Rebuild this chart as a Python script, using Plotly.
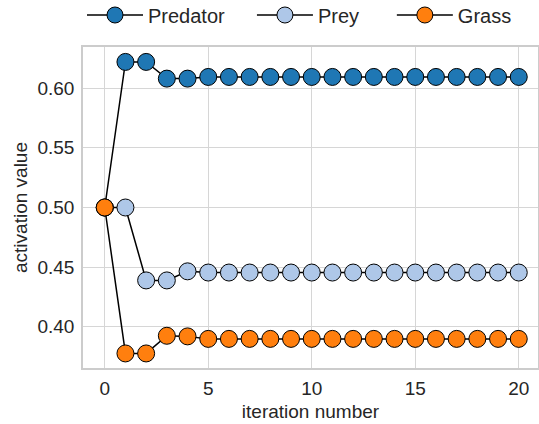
import plotly.graph_objects as go

iterations = list(range(21))
predator = [0.5, 0.622, 0.622, 0.608, 0.608] + [0.6094] * 16
prey = [0.5, 0.5, 0.4389, 0.4389, 0.4465] + [0.4455] * 16
grass = [0.5, 0.3777, 0.3777, 0.3925, 0.392] + [0.3899] * 16

names = ["Predator", "Prey", "Grass"]
colors = ["#1f77b4", "#aec7e8", "#ff7f0e"]
pad = ["\u00a0" * 4, "\u00a0" * 5, ""]

fig = go.Figure()
for name, vals, col, p in zip(names, [predator, prey, grass], colors, pad):
    fig.add_trace(go.Scatter(
        x=iterations, y=vals, name=name + p, mode="lines+markers",
        line=dict(color="black", width=1.5),
        marker=dict(size=17, color=col, line=dict(color="black", width=1)),
    ))

font = "Liberation Sans, Arial, sans-serif"
fig.update_layout(
    width=539, height=424,
    margin=dict(l=83, r=1, t=47, b=56, autoexpand=False),
    plot_bgcolor="white", paper_bgcolor="white",
    font=dict(family=font, size=19, color="#262626"),
    showlegend=True,
    legend=dict(orientation="h", xref="container", yref="container",
                x=82 / 539, xanchor="left", y=1 - 15 / 424, yanchor="middle",
                font=dict(size=20), itemwidth=56, tracegroupgap=0,
                bgcolor="rgba(0,0,0,0)"),
)
fig.update_xaxes(range=[-1.05, 20.93], tickvals=[0, 5, 10, 15, 20], showgrid=True,
                 gridcolor="#d6d6d6", gridwidth=1, zeroline=False, automargin=False,
                 showline=True, linecolor="#cccccc", linewidth=1.5, mirror=True,
                 ticks="", ticklabelstandoff=2,
                 title=dict(text="iteration number", font=dict(size=19), standoff=7),
                 tickfont=dict(size=19))
fig.update_yaxes(range=[0.3655, 0.6345], tickvals=[0.40, 0.45, 0.50, 0.55, 0.60],
                 tickformat=".2f", showgrid=True, gridcolor="#d6d6d6", gridwidth=1,
                 zeroline=False, showline=True, linecolor="#cccccc", linewidth=1.5, mirror=True,
                 automargin=False, ticks="", ticklabelstandoff=3,
                 title=dict(text="activation value", font=dict(size=19), standoff=5),
                 tickfont=dict(size=19))

fig.write_html("out.html", config={"displayModeBar": False},
               post_script="document.body.style.margin='0px';")
